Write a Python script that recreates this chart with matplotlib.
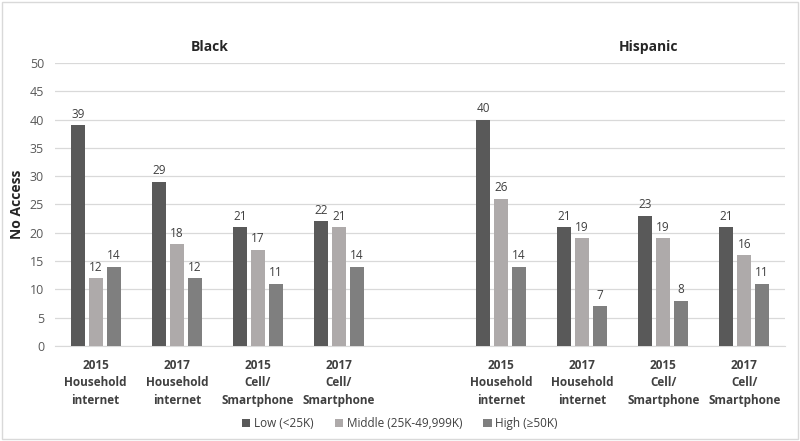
import matplotlib.pyplot as plt
import numpy as np
from matplotlib.patches import Rectangle

plt.rcParams['font.family'] = ['Open Sans', 'DejaVu Sans']

# categories (one empty slot separates the two groups)
categories = ['2015\nHousehold\ninternet', '2017\nHousehold\ninternet',
              '2015\nCell/\nSmartphone', '2017\nCell/\nSmartphone']
groups = ['Black', 'Hispanic']

low_black = [39, 29, 21, 22]
mid_black = [12, 18, 17, 21]
high_black = [14, 12, 11, 14]

low_hisp = [40, 21, 23, 21]
mid_hisp = [26, 19, 19, 16]
high_hisp = [14, 7, 8, 11]

series_names = ['Low (<25K)', 'Middle (25K-49,999K)', 'High (\u226550K)']
colors = ['#595959', '#AEAAAA', '#7F7F7F']

low = low_black + low_hisp
mid = mid_black + mid_hisp
high = high_black + high_hisp
labels = categories + categories
x = np.array([0, 1, 2, 3, 5, 6, 7, 8])

fig = plt.figure(figsize=(8, 4.41), dpi=100)
ax = fig.add_axes([0.069, 0.2154, 0.912, 0.642])

w = 0.173
pitch = 0.222
for k, (vals, name, c) in enumerate(zip([low, mid, high], series_names, colors)):
    xs = x + (k - 1) * pitch
    ax.bar(xs, vals, width=w, color=c, label=name, zorder=3)
    for xi, v in zip(xs, vals):
        ax.text(xi, v + 0.8, str(v), ha='center', va='bottom', fontsize=8.5, color='#404040')

ax.set_xlim(-0.5, 8.5)
ax.set_ylim(0, 50)
ax.set_yticks(range(0, 51, 5))
ax.grid(axis='y', color='#D9D9D9', linewidth=0.9, zorder=0)
ax.tick_params(axis='y', length=0, labelsize=9, labelcolor='#595959', pad=8)
ax.set_xticks(x)
ax.set_xticklabels(labels, fontsize=8.5, fontweight='bold', color='#404040', linespacing=1.45)
ax.tick_params(axis='x', length=0, pad=9)
for s in ['top', 'right', 'left']:
    ax.spines[s].set_visible(False)
ax.spines['bottom'].set_color('#D9D9D9')
ax.set_ylabel('No Access', fontsize=10, fontweight='bold', color='#262626', labelpad=4)

ax.text(1.41, 51.5, groups[0], ha='center', va='bottom', fontsize=10, fontweight='bold', color='#262626')
ax.text(6.82, 51.5, groups[1], ha='center', va='bottom', fontsize=10, fontweight='bold', color='#262626')

fig.legend(loc='lower center', bbox_to_anchor=(0.5, 0.0), ncol=3, frameon=False,
           fontsize=8.5, handlelength=0.7, handleheight=0.7, handletextpad=0.3,
           columnspacing=1.8, labelcolor='#404040')

fig.patches.append(Rectangle((0.003, 0.005), 0.994, 0.99, transform=fig.transFigure,
                             fill=False, edgecolor='#D9D9D9', linewidth=1))

fig.savefig('out.png', dpi=100)
